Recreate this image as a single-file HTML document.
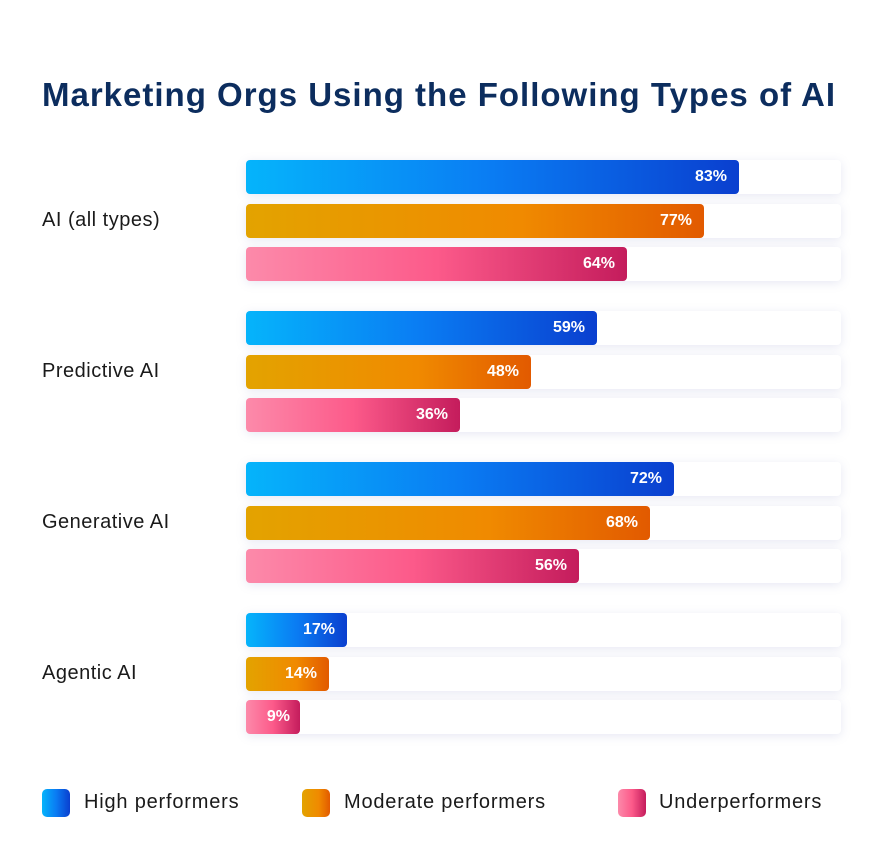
<!DOCTYPE html>
<html><head><style>
body{margin:0;width:896px;height:866px;background:#fff;font-family:"Liberation Sans",sans-serif;position:relative;overflow:hidden}
.t{position:absolute;left:42px;top:76px;font-size:33px;font-weight:bold;color:#0c2d5e;letter-spacing:1.0px;white-space:nowrap}
.tr{position:absolute;left:246px;width:595px;height:34px;background:#fff;border-radius:4px;box-shadow:0 2px 10px rgba(120,130,190,0.18)}
.b{position:absolute;left:246px;height:34px;border-radius:4px;color:#fff;font-weight:bold;font-size:16px;line-height:34px;text-align:right;box-sizing:border-box;padding-right:12px}
.h{background:linear-gradient(90deg,#05b4fb,#0a7cf3 50%,#0a3fcf)}
.m{background:linear-gradient(90deg,#e3a300,#f08a00 60%,#e25a00)}
.u{background:linear-gradient(90deg,#fc8aaa,#fc5a8a 50%,#c41c5c)}
.l{position:absolute;left:42px;font-size:20px;letter-spacing:0.5px;color:#1a1a1a}
.sq{position:absolute;top:789px;width:28px;height:28px;border-radius:5px}
.lt{position:absolute;top:791px;font-size:20px;letter-spacing:0.8px;color:#1a1a1a}
</style></head><body>
<div class="t">Marketing Orgs Using the Following Types of AI</div>

<div class="tr" style="top:160px"></div><div class="tr" style="top:204px"></div><div class="tr" style="top:247px"></div>
<div class="b h" style="top:160px;width:493px">83%</div>
<div class="b m" style="top:204px;width:458px">77%</div>
<div class="b u" style="top:247px;width:381px">64%</div>
<div class="l" style="top:209px">AI (all types)</div>

<div class="tr" style="top:311px"></div><div class="tr" style="top:355px"></div><div class="tr" style="top:398px"></div>
<div class="b h" style="top:311px;width:351px">59%</div>
<div class="b m" style="top:355px;width:285px">48%</div>
<div class="b u" style="top:398px;width:214px">36%</div>
<div class="l" style="top:360px">Predictive AI</div>

<div class="tr" style="top:462px"></div><div class="tr" style="top:506px"></div><div class="tr" style="top:549px"></div>
<div class="b h" style="top:462px;width:428px">72%</div>
<div class="b m" style="top:506px;width:404px">68%</div>
<div class="b u" style="top:549px;width:333px">56%</div>
<div class="l" style="top:511px">Generative AI</div>

<div class="tr" style="top:613px"></div><div class="tr" style="top:657px"></div><div class="tr" style="top:700px"></div>
<div class="b h" style="top:613px;width:101px">17%</div>
<div class="b m" style="top:657px;width:83px">14%</div>
<div class="b u" style="top:700px;width:54px;padding-right:10px">9%</div>
<div class="l" style="top:662px">Agentic AI</div>

<div class="sq h" style="left:42px"></div><div class="lt" style="left:84px">High performers</div>
<div class="sq m" style="left:302px"></div><div class="lt" style="left:344px">Moderate performers</div>
<div class="sq u" style="left:618px"></div><div class="lt" style="left:659px">Underperformers</div>
</body></html>
